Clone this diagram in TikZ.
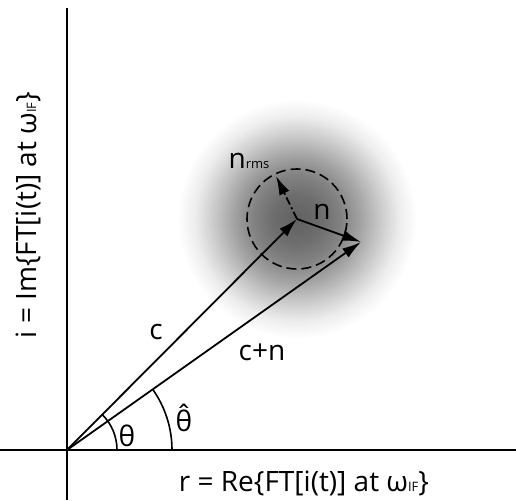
\documentclass[tikz,border=0pt]{standalone}
\usepackage{fontspec}
\setmainfont{Open Sans}
\usetikzlibrary{arrows.meta}

% noise cloud around the carrier tip (path box maps to +-25bp)
\pgfdeclareradialshading{noiseblob}{\pgfpoint{0bp}{0bp}}{%
  color(0bp)=(black!62); color(5bp)=(black!57); color(9bp)=(black!49);
  color(13bp)=(black!36); color(17bp)=(black!21); color(21bp)=(black!7);
  color(24.5bp)=(white); color(50bp)=(white)}

\begin{document}
\begin{tikzpicture}[
            x=1pt, y=1pt,
            font=\fontsize{28}{30}\selectfont,
            axis/.style={line width=2pt},
            vec/.style={line width=1.8pt, -{Latex[length=19pt,width=11pt]}},
            ang/.style={line width=1.6pt},
            lbl/.style={inner sep=0pt}
        ]
            \useasboundingbox (0,0) rectangle (516,500);

% points
            \coordinate (O)  at (67,50);
            \coordinate (C)  at (297,281);
            \coordinate (CN) at (361,258);
            \coordinate (R)  at (276,324);

% gaussian noise cloud
            \shade[shading=noiseblob] (C) circle (122);

% axes
            \draw[axis] (0,50) -- (516,50);
            \draw[axis] (67,0) -- (67,492);

% vectors
            \draw[vec] (O) -- (C);
            \draw[vec] (O) -- (CN);
            \draw[vec] (C) -- (CN);
            \draw[vec, dash pattern=on 8pt off 3pt on 2pt off 3pt] (C) -- (R);
            \draw[line width=1.6pt, dash pattern=on 10pt off 5pt] (C) circle (50);

% angles
            \draw[ang] ([shift={(0:50)}]O) arc (0:45:50);
            \draw[ang] ([shift={(0:105)}]O) arc (0:35.4:105);

% labels
            \node[lbl] (clbl)   at (156,168) {c};
            \node[lbl] (cnlbl)  at (262,148) {c+n};
            \node[lbl] (nlbl)   at (322,288) {n};
            \node[lbl] (rmslbl) at (249,339) {n{\fontsize{13}{13}\selectfont rms}};
            \node[lbl] (thlbl)  at (127,64)  {θ};
            \node[lbl] (thhlbl) at (184,82)  {\accent"02C6 θ};
            \node[lbl] (xlbl)   at (304,17)  {r = Re\{FT[i(t)] at ω{\fontsize{13}{13}\selectfont IF}\}};
            \node[lbl, rotate=90] (ylbl) at (28,285) {i = Im\{FT[i(t)] at ω{\fontsize{13}{13}\selectfont IF}\}};
        \end{tikzpicture}
\end{document}
